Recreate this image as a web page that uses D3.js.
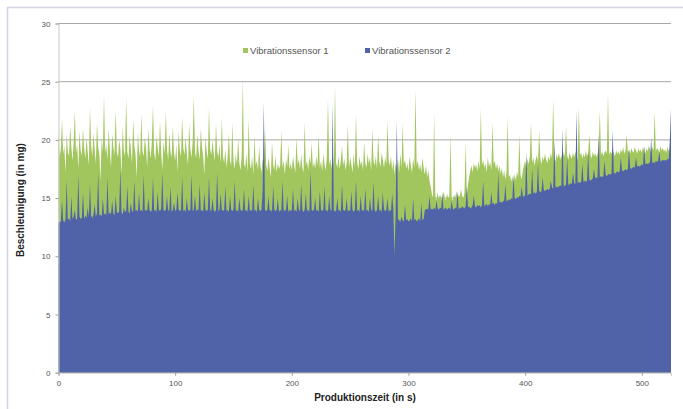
<!DOCTYPE html>
<html>
<head>
<meta charset="utf-8">
<script src="https://cdn.jsdelivr.net/npm/d3@7"></script>
<style>
  html, body { margin: 0; padding: 0; background: #fff; }
  svg { display: block; font-family: "Liberation Sans", Arial, sans-serif; }
</style>
</head>
<body>
<svg id="chart" width="683" height="409"></svg>
<script>
// ---- data (one sample per second, t = 0 .. 525 s) ----
const timeStep = 1;
const seriesNames = ["Vibrationssensor 1", "Vibrationssensor 2"];
const yTicks = [0, 5, 10, 15, 20, 25, 30];
const xTicks = [0, 100, 200, 300, 400, 500];

const sensor1 = [
  20.8, 18.5, 19.2, 21.8, 18.8, 19.5, 17.2, 20.5, 19.0, 18.6, 21.2, 19.4, 18.2, 19.8, 22.5, 18.9, 19.6, 17.5, 20.8, 19.1,
  18.7, 21.0, 19.3, 18.4, 20.2, 19.0, 17.8, 22.8, 19.5, 18.6, 20.6, 19.2, 18.0, 21.5, 19.4, 18.8, 16.5, 20.2, 19.0, 23.8,
  18.9, 19.6, 18.3, 21.0, 19.2, 17.6, 20.5, 19.4, 18.7, 22.6, 19.0, 18.5, 20.0, 19.3, 17.0, 21.2, 19.1, 18.6, 23.6, 19.0,
  18.4, 20.4, 19.2, 18.0, 21.8, 19.5, 18.8, 16.8, 20.6, 19.1, 18.5, 22.2, 19.0, 18.6, 20.2, 19.4, 17.6, 21.0, 19.2, 18.4,
  19.8, 23.0, 18.9, 18.2, 20.4, 19.3, 18.6, 21.6, 19.0, 17.4, 19.9, 18.8, 22.4, 19.2, 18.3, 20.6, 19.0, 18.5, 21.2, 18.9,
  18.2, 19.6, 17.2, 20.8, 19.1, 18.6, 22.0, 19.3, 18.7, 20.2, 18.9, 17.8, 21.4, 19.2, 18.5, 19.8, 23.8, 19.0, 18.4, 20.5,
  19.1, 18.3, 21.0, 19.4, 18.6, 17.0, 20.3, 19.0, 18.4, 22.8, 19.2, 18.7, 20.0, 18.9, 18.2, 21.4, 19.0, 18.5, 19.6, 18.0,
  21.8, 18.6, 18.0, 19.2, 17.6, 18.5, 20.6, 18.2, 17.8, 21.5, 18.1, 17.5, 18.8, 17.9, 20.2, 18.0, 17.4, 18.6, 25.3, 18.0,
  17.6, 18.8, 17.2, 21.8, 18.0, 17.5, 18.6, 17.0, 20.4, 17.8, 18.2, 17.4, 19.5, 17.8, 17.2, 18.4, 17.6, 21.0, 17.9, 17.3,
  18.5, 17.6, 16.8, 19.8, 17.9, 17.4, 18.6, 17.2, 18.0, 17.5, 17.8, 20.8, 17.6, 18.2, 17.0, 18.4, 17.7, 19.6, 17.5, 18.0,
  17.4, 18.6, 17.8, 17.2, 20.2, 17.9, 18.3, 17.5, 18.8, 17.6, 17.2, 21.5, 17.8, 18.2, 17.4, 18.6, 17.9, 19.8, 17.6, 18.1,
  17.5, 18.6, 17.8, 20.5, 17.6, 18.2, 17.3, 18.8, 17.9, 17.4, 18.5, 23.6, 17.8, 18.4, 17.5, 18.9, 17.7, 24.7, 18.0, 17.6,
  18.6, 17.5, 18.2, 19.5, 17.8, 18.4, 17.4, 18.0, 21.3, 17.6, 18.5, 17.9, 17.2, 18.8, 17.6, 22.3, 18.0, 17.5, 18.6, 17.8,
  18.2, 17.4, 19.8, 18.0, 17.6, 18.8, 17.9, 18.5, 17.3, 21.0, 18.2, 17.8, 18.6, 17.5, 20.4, 18.1, 17.7, 18.9, 18.3, 17.6,
  18.5, 17.9, 21.6, 18.2, 17.8, 18.6, 17.4, 18.3, 17.0, 18.0, 17.5, 18.4, 17.2, 18.8, 17.6, 21.4, 17.9, 18.3, 17.5, 18.0,
  17.3, 18.6, 17.8, 17.2, 18.4, 17.6, 24.3, 17.8, 18.2, 17.4, 17.9, 17.2, 18.5, 17.6, 17.0, 17.8, 16.8, 17.4, 16.5, 16.0,
  15.4, 15.0, 22.4, 15.2, 14.8, 15.5, 14.9, 15.3, 15.0, 14.7, 15.6, 15.1, 14.8, 15.4, 15.0, 15.2, 20.5, 15.0, 14.8, 15.3,
  15.0, 15.6, 14.9, 15.3, 15.1, 15.8, 15.2, 15.0, 15.5, 19.8, 15.3, 16.2, 16.8, 17.4, 17.8, 17.2, 18.0, 17.6, 17.9, 17.3,
  18.2, 17.5, 22.7, 17.8, 18.3, 17.6, 18.0, 17.2, 18.5, 17.7, 18.1, 17.4, 21.5, 17.9, 18.2, 17.5, 18.0, 17.3, 17.8, 17.1,
  17.6, 16.8, 17.4, 16.6, 17.2, 22.0, 16.8, 17.0, 16.4, 16.9, 16.2, 17.1, 16.5, 17.3, 16.8, 20.5, 17.0, 16.6, 17.4, 17.8,
  18.2, 17.6, 18.4, 17.9, 18.6, 21.5, 18.0, 18.5, 17.8, 18.3, 18.7, 18.1, 20.8, 18.4, 17.9, 18.6, 18.2, 18.8, 18.3, 18.0,
  18.6, 18.2, 18.9, 18.4, 23.5, 18.6, 18.1, 18.8, 18.4, 18.9, 18.3, 18.7, 18.2, 19.0, 18.5, 21.2, 18.7, 18.3, 18.9, 18.6,
  18.4, 18.9, 18.5, 19.0, 18.6, 18.3, 22.8, 18.7, 18.9, 18.4, 18.8, 18.5, 19.1, 18.6, 18.9, 20.5, 18.7, 18.4, 19.0, 18.6,
  18.9, 18.5, 18.8, 19.2, 22.5, 18.7, 19.0, 18.6, 18.9, 19.1, 18.8, 24.0, 18.7, 19.0, 18.8, 19.2, 18.9, 18.6, 19.1, 18.8,
  19.0, 18.7, 19.2, 18.9, 19.4, 18.8, 19.1, 20.5, 18.9, 19.2, 18.8, 19.3, 19.0, 18.9, 19.4, 19.1, 18.8, 19.3, 19.0, 19.2,
  18.9, 19.4, 19.1, 18.8, 19.3, 19.0, 19.5, 19.2, 18.9, 19.4, 19.1, 22.4, 19.0, 19.3, 19.2, 18.9, 19.5, 19.1, 19.3, 19.0,
  19.2, 18.9, 19.4, 19.1, 19.0, 19.3
];

const sensor2 = [
  13.0, 12.9, 13.0, 14.8, 13.1, 12.9, 13.2, 16.5, 13.1, 13.3, 13.0, 15.2, 13.2, 13.4, 14.0, 13.1, 13.3, 17.0, 13.4, 13.2,
  13.3, 15.5, 13.2, 13.5, 13.3, 14.2, 13.4, 16.2, 13.5, 13.3, 13.6, 14.5, 13.4, 13.7, 17.2, 13.5, 13.6, 13.4, 15.0, 13.6,
  13.7, 13.5, 16.8, 13.6, 13.8, 13.6, 14.8, 13.7, 13.5, 15.2, 13.8, 13.7, 13.9, 17.5, 13.8, 13.6, 14.2, 13.8, 13.9, 16.0,
  13.8, 13.7, 14.6, 13.9, 13.8, 16.5, 13.9, 14.0, 13.8, 15.4, 13.9, 14.0, 13.8, 17.0, 13.9, 14.0, 13.9, 15.0, 14.0, 13.8,
  14.0, 16.8, 13.9, 14.0, 13.8, 15.5, 14.0, 13.9, 14.1, 17.2, 14.0, 13.9, 14.0, 15.2, 13.9, 14.0, 16.0, 13.8, 14.0, 14.6,
  13.9, 14.0, 15.5, 14.0, 13.9, 14.0, 16.8, 13.9, 14.0, 13.8, 15.0, 14.0, 13.9, 14.0, 17.0, 13.9, 14.0, 15.2, 13.9, 14.0,
  14.0, 16.2, 13.9, 14.0, 13.8, 15.5, 14.0, 13.9, 14.0, 16.8, 14.0, 13.9, 15.0, 14.0, 13.8, 14.0, 17.2, 13.9, 14.0, 15.4,
  14.0, 13.9, 14.0, 16.0, 13.9, 14.0, 13.8, 15.2, 14.0, 13.9, 14.0, 16.5, 13.9, 14.0, 13.8, 15.0, 14.0, 13.9, 14.0, 15.8,
  13.9, 14.0, 13.8, 15.2, 14.0, 13.9, 14.0, 16.2, 13.9, 14.0, 13.8, 15.0, 14.0, 13.9, 14.0, 15.6, 23.3, 14.0, 13.9, 14.0,
  15.2, 13.9, 14.0, 13.8, 16.0, 14.0, 13.9, 14.0, 15.0, 13.8, 14.0, 13.9, 16.5, 14.0, 13.9, 14.0, 15.2, 13.8, 14.0, 13.9,
  14.0, 15.8, 13.9, 14.0, 13.8, 15.0, 14.0, 13.9, 16.2, 14.0, 13.8, 14.0, 15.4, 13.9, 14.0, 13.8, 17.4, 14.0, 13.9, 14.0,
  15.0, 13.9, 14.0, 13.8, 15.6, 14.0, 13.9, 14.0, 16.0, 13.9, 14.0, 13.8, 15.2, 14.0, 13.9, 23.1, 14.0, 13.8, 14.0, 15.0,
  13.9, 14.0, 13.8, 16.2, 14.0, 13.9, 14.0, 15.0, 13.8, 14.0, 13.9, 15.6, 14.0, 13.8, 14.0, 16.5, 13.9, 14.0, 13.8, 15.2,
  14.0, 13.9, 14.0, 15.8, 13.9, 14.0, 13.8, 15.0, 14.0, 13.9, 16.4, 14.0, 13.8, 14.0, 15.2, 13.9, 14.0, 13.8, 15.5, 14.0,
  13.9, 14.0, 15.0, 13.8, 14.0, 13.9, 15.4, 14.0, 10.0, 13.8, 21.7, 13.2, 13.1, 13.0, 13.4, 13.1, 13.0, 14.5, 13.1, 13.2,
  13.0, 13.1, 13.3, 13.0, 15.0, 13.1, 13.2, 13.0, 13.1, 13.3, 13.0, 14.6, 13.1, 13.2, 14.0, 14.0, 14.1, 14.0, 15.2, 14.0,
  14.1, 14.0, 14.2, 14.0, 14.8, 14.1, 14.0, 14.2, 14.1, 15.5, 14.0, 14.1, 14.2, 14.0, 14.1, 14.2, 14.0, 14.8, 14.1, 14.0,
  14.2, 14.1, 15.6, 14.0, 14.2, 14.1, 14.3, 14.2, 14.1, 14.3, 16.0, 14.2, 14.3, 14.1, 14.2, 14.4, 15.2, 14.3, 14.2, 14.4,
  14.3, 14.4, 14.2, 14.4, 16.5, 14.3, 14.4, 14.5, 14.3, 14.5, 14.4, 15.5, 14.5, 14.6, 14.4, 14.6, 14.5, 17.2, 14.6, 14.7,
  14.6, 14.7, 14.8, 16.2, 14.7, 14.8, 14.9, 14.8, 15.0, 14.9, 17.0, 15.0, 14.9, 15.1, 15.0, 15.2, 15.1, 16.0, 15.2, 15.1,
  15.3, 19.0, 15.2, 15.3, 15.4, 15.3, 17.5, 15.4, 15.5, 15.4, 15.5, 18.0, 15.6, 15.5, 15.6, 16.8, 15.7, 15.6, 15.7, 15.8,
  15.7, 15.8, 16.5, 15.9, 15.8, 20.0, 15.9, 16.0, 15.9, 16.0, 16.1, 16.0, 21.0, 16.1, 16.0, 16.2, 18.5, 16.1, 16.2, 16.3,
  16.2, 17.2, 16.3, 16.2, 22.5, 16.3, 16.4, 16.3, 16.4, 18.0, 16.4, 16.5, 16.4, 16.5, 19.0, 16.6, 16.5, 16.6, 16.7, 17.5,
  16.7, 16.8, 16.7, 20.5, 16.8, 16.9, 16.8, 16.9, 18.2, 17.0, 16.9, 17.0, 17.1, 17.0, 17.1, 20.8, 17.2, 17.1, 17.2, 17.3,
  17.2, 17.3, 18.5, 17.4, 17.3, 17.4, 17.5, 17.4, 17.5, 19.2, 17.6, 17.5, 17.6, 17.7, 17.6, 18.5, 17.7, 17.8, 17.7, 17.8,
  17.9, 17.8, 19.5, 17.9, 18.0, 17.9, 18.0, 18.1, 20.2, 18.0, 18.1, 18.0, 18.2, 18.1, 18.2, 19.0, 18.1, 18.2, 18.3, 18.2,
  18.3, 18.2, 18.4, 18.3, 20.0, 22.7
];

const seriesColors = ["#A2C65E", "#5063A9"];

// ---- layout ----
const svg = d3.select("#chart");
const W = 683, H = 409;
const m = { left: 58.5, right: 671, top: 23.5, bottom: 372.7 };

svg.append("rect").attr("x", 0).attr("y", 0).attr("width", W).attr("height", H).attr("fill", "#fff");
svg.append("rect").attr("x", 7.5).attr("y", 7.5).attr("width", 700).attr("height", 420)
  .attr("fill", "none").attr("stroke", "#d4d4e4").attr("stroke-width", 1.5);

const x = d3.scaleLinear().domain([0, 525]).range([m.left, m.right]);
const y = d3.scaleLinear().domain([0, 30]).range([m.bottom, m.top]);

// gridlines
svg.append("g").selectAll("line").data(yTicks.filter(d => d > 0)).join("line")
  .attr("x1", m.left).attr("x2", m.right)
  .attr("y1", d => y(d)).attr("y2", d => y(d))
  .attr("stroke", "#a8a8a8").attr("stroke-width", 1);

// areas (sensor 1 behind, sensor 2 in front)
const data = [sensor1, sensor2];
const area = d3.area()
  .x((d, i) => x(i * timeStep))
  .y0(y(0))
  .y1(d => y(d))
  .curve(d3.curveLinear);

svg.append("g").selectAll("path").data(data).join("path")
  .attr("d", d => area(d))
  .attr("fill", (d, i) => seriesColors[i]);

// axes
const yAxis = d3.axisLeft(y).tickValues(yTicks).tickSize(3).tickPadding(5);
const gy = svg.append("g").attr("transform", `translate(${m.left},0)`).call(yAxis);
gy.select(".domain").attr("stroke", "#c8c8c8");
gy.selectAll(".tick line").attr("stroke", "#999");
gy.selectAll("text").attr("fill", "#555").style("font-size", "8px");

const xAxis = d3.axisBottom(x).tickValues(xTicks).tickSize(3).tickPadding(5);
const gx = svg.append("g").attr("transform", `translate(0,${m.bottom})`).call(xAxis);
gx.select(".domain").attr("stroke", "#c8c8c8");
gx.selectAll(".tick line").attr("stroke", "#999");
gx.selectAll("text").attr("fill", "#555").style("font-size", "8px");

// axis titles
svg.append("text")
  .attr("transform", `translate(24,${(m.top + m.bottom) / 2 + 2}) rotate(-90)`)
  .attr("text-anchor", "middle")
  .style("font-size", "10px").style("font-weight", "bold").attr("fill", "#222")
  .text("Beschleunigung (in mg)");

svg.append("text")
  .attr("x", 365).attr("y", 401)
  .attr("text-anchor", "middle")
  .style("font-size", "10px").style("font-weight", "bold").attr("fill", "#222")
  .text("Produktionszeit (in s)");

// legend
const legendX = [243, 365];
const lg = svg.append("g").selectAll("g").data(seriesNames).join("g")
  .attr("transform", (d, i) => `translate(${legendX[i]},51)`);
lg.append("rect").attr("x", 0).attr("y", -3).attr("width", 5).attr("height", 5)
  .attr("fill", (d, i) => seriesColors[i]);
lg.append("text").attr("x", 7).attr("y", 0).attr("dy", "0.35em")
  .style("font-size", "9.5px").attr("fill", "#555").text(d => d);
</script>
</body>
</html>
